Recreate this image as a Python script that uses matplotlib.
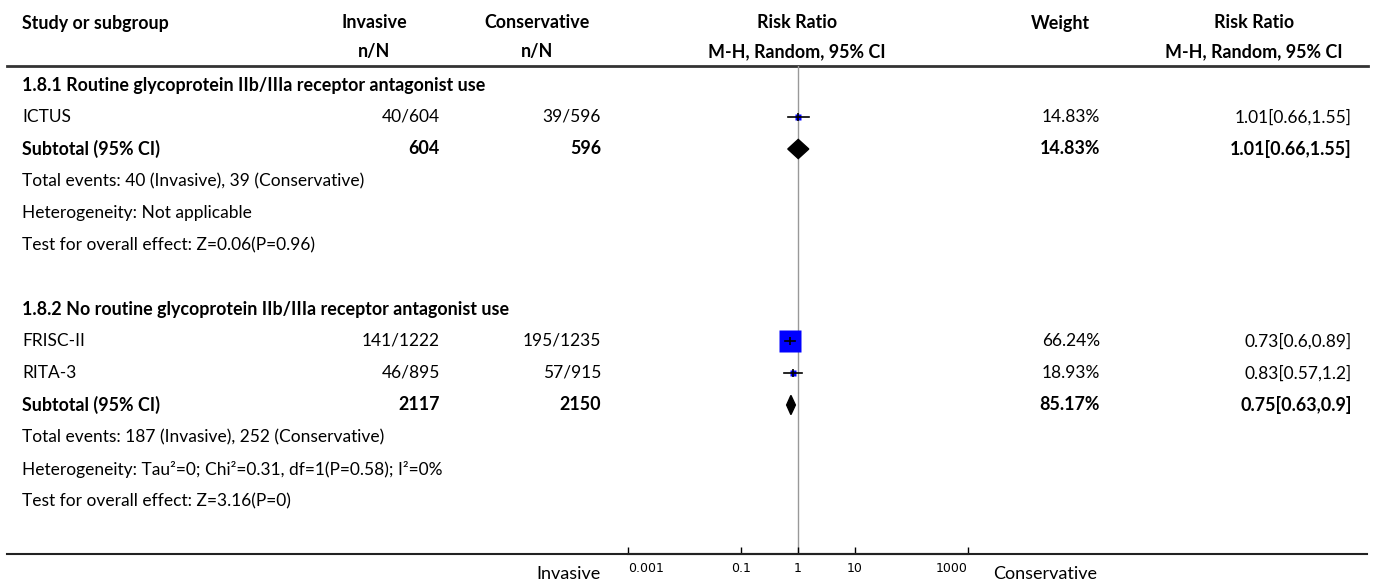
import matplotlib.pyplot as plt
from matplotlib.patches import Polygon

plt.rcParams['font.family'] = ['Lato', 'DejaVu Sans']

# Datos de los subgrupos
titulos = ['1.8.1 Routine glycoprotein IIb/IIIa receptor antagonist use',
           '1.8.2 No routine glycoprotein IIb/IIIa receptor antagonist use']
estudios = [['ICTUS'], ['FRISC-II', 'RITA-3']]
inv_eventos = [[40], [141, 46]]
inv_total = [[604], [1222, 895]]
con_eventos = [[39], [195, 57]]
con_total = [[596], [1235, 915]]
pesos = [[14.83], [66.24, 18.93]]
rr = [[1.01], [0.73, 0.83]]
rr_lo = [[0.66], [0.6, 0.57]]
rr_hi = [[1.55], [0.89, 1.2]]

sub_peso = [14.83, 85.17]
sub_rr = [1.01, 0.75]
sub_lo = [0.66, 0.63]
sub_hi = [1.55, 0.9]
eventos_txt = ['Total events: 40 (Invasive), 39 (Conservative)',
               'Total events: 187 (Invasive), 252 (Conservative)']
hetero_txt = ['Heterogeneity: Not applicable',
              'Heterogeneity: Tau\u00b2=0; Chi\u00b2=0.31, df=1(P=0.58); I\u00b2=0%']
efecto_txt = ['Test for overall effect: Z=0.06(P=0.96)',
              'Test for overall effect: Z=3.16(P=0)']

ticks = [0.001, 0.1, 1, 10, 1000]
tick_labels = ['0.001', '0.1', '1', '10', '1000']

W, H = 1375, 581
FS = 12.5     # texto normal
FB = 12.9     # texto en negrita
AZUL = '#0000ff'


def fila(y):
    # pixel -> unidad de fila
    return (y - 85) / 32.0


fig = plt.figure(figsize=(W / 100, H / 100), dpi=100)
ax = fig.add_axes([0, 0, 1, 1])
ax.set_xlim(0, W)
ax.set_ylim(fila(H), fila(0))
ax.axis('off')

# forest plot con escala log
y_top, y_bot = 66, 554
ax2 = fig.add_axes([628 / W, (H - y_bot) / H, 340 / W, (y_bot - y_top) / H])
ax2.set_xscale('log')
ax2.set_xlim(1e-3, 1e3)
ax2.set_ylim(fila(y_bot), fila(y_top))
ax2.patch.set_alpha(0)
for s in ['top', 'left', 'right']:
    ax2.spines[s].set_visible(False)
ax2.spines['bottom'].set_linewidth(1.5)
ax2.spines['bottom'].set_color('#222222')
ax2.set_yticks([])
ax2.minorticks_off()
ax2.set_xticks(ticks)
ax2.tick_params(axis='x', direction='in', length=5, width=1, pad=6)
etqs = ax2.set_xticklabels(tick_labels, fontsize=9, family='DejaVu Sans')
etqs[0].set_ha('left')
etqs[-1].set_ha('right')
ax2.axvline(1, color='#999999', lw=1, zorder=1)

# encabezados
hy1, hy2 = fila(23), fila(52)
ax.text(22, hy1, 'Study or subgroup', fontsize=FB, fontweight='bold', va='center')
ax.text(374, hy1, 'Invasive', fontsize=FB, fontweight='bold', ha='center', va='center')
ax.text(374, hy2, 'n/N', fontsize=FB, fontweight='bold', ha='center', va='center')
ax.text(537, hy1, 'Conservative', fontsize=FB, fontweight='bold', ha='center', va='center')
ax.text(537, hy2, 'n/N', fontsize=FB, fontweight='bold', ha='center', va='center')
ax.text(797, hy1, 'Risk Ratio', fontsize=FB, fontweight='bold', ha='center', va='center')
ax.text(797, hy2, 'M-H, Random, 95% CI', fontsize=FB, fontweight='bold', ha='center', va='center')
ax.text(1060, hy1, 'Weight', fontsize=FB, fontweight='bold', ha='center', va='center')
ax.text(1254, hy1, 'Risk Ratio', fontsize=FB, fontweight='bold', ha='center', va='center')
ax.text(1254, hy2, 'M-H, Random, 95% CI', fontsize=FB, fontweight='bold', ha='center', va='center')
ax.plot([7, 1368], [fila(66), fila(66)], color='#333333', lw=2)
ax.plot([7, 1367], [fila(554), fila(554)], color='#222222', lw=1.5)

r = 0
for g in range(len(titulos)):
    ax.text(22, r, titulos[g], fontsize=FB, fontweight='bold', va='center')
    r += 1
    for i in range(len(estudios[g])):
        ax.text(22, r, estudios[g][i], fontsize=FS, va='center')
        ax.text(440, r, f'{inv_eventos[g][i]}/{inv_total[g][i]}', fontsize=FS, ha='right', va='center')
        ax.text(601, r, f'{con_eventos[g][i]}/{con_total[g][i]}', fontsize=FS, ha='right', va='center')
        ax.text(1100, r, f'{pesos[g][i]:.2f}%', fontsize=FS, ha='right', va='center')
        ax.text(1352, r, f'{rr[g][i]:g}[{rr_lo[g][i]:g},{rr_hi[g][i]:g}]', fontsize=FS, ha='right', va='center')
        lado = pesos[g][i] * 0.32 * 0.72
        ax2.plot(rr[g][i], r, marker='s', ms=max(lado, 4), color=AZUL, mec='none', zorder=2)
        ax2.plot([rr_lo[g][i], rr_hi[g][i]], [r, r], color='black', lw=1.2, zorder=3)
        ax2.plot(rr[g][i], r, marker='|', ms=6, mew=1.2, color='black', zorder=3)
        r += 1
    # subtotal
    ax.text(22, r, 'Subtotal (95% CI)', fontsize=FB, fontweight='bold', va='center')
    ax.text(440, r, f'{sum(inv_total[g])}', fontsize=FB, fontweight='bold', ha='right', va='center')
    ax.text(601, r, f'{sum(con_total[g])}', fontsize=FB, fontweight='bold', ha='right', va='center')
    ax.text(1100, r, f'{sub_peso[g]:.2f}%', fontsize=FB, fontweight='bold', ha='right', va='center')
    ax.text(1352, r, f'{sub_rr[g]:g}[{sub_lo[g]:g},{sub_hi[g]:g}]', fontsize=FB,
            fontweight='bold', ha='right', va='center')
    diamante = Polygon([(sub_lo[g], r), (sub_rr[g], r - 0.3), (sub_hi[g], r), (sub_rr[g], r + 0.3)],
                       closed=True, color='black', zorder=3)
    ax2.add_patch(diamante)
    r += 1
    ax.text(22, r, eventos_txt[g], fontsize=FS, va='center')
    ax.text(22, r + 1, hetero_txt[g], fontsize=FS, va='center')
    ax.text(22, r + 2, efecto_txt[g], fontsize=FS, va='center')
    r += 4

# etiquetas de direccion
ax.text(601, fila(574), 'Invasive', fontsize=13, ha='right', va='center')
ax.text(993, fila(574), 'Conservative', fontsize=13, ha='left', va='center')

fig.savefig('out.png', dpi=100)
